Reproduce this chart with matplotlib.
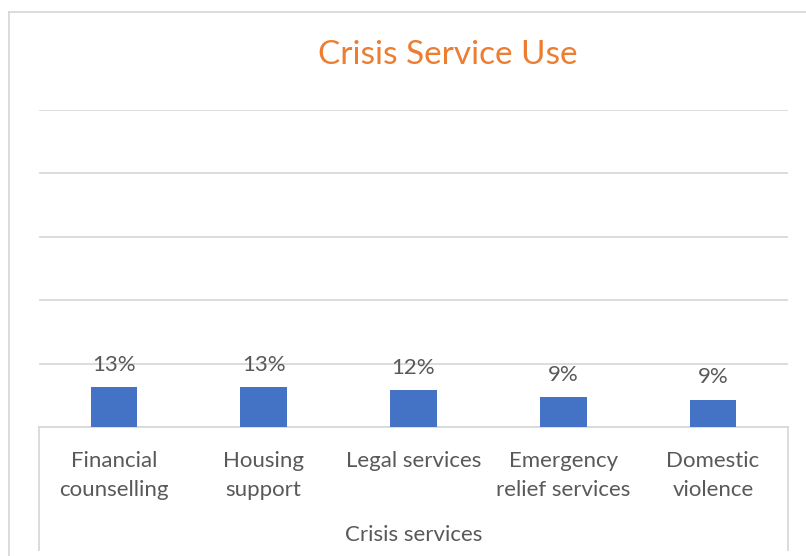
import matplotlib
matplotlib.use("Agg")
import matplotlib.pyplot as plt
from matplotlib.lines import Line2D

# Crisis service use (% of respondents)
categories = ["Financial\ncounselling", "Housing\nsupport", "Legal services",
              "Emergency\nrelief services", "Domestic\nviolence"]
values = [12.6, 12.6, 11.6, 9.4, 8.6]
y_ticks = [0, 20, 40, 60, 80, 100]

plt.rcParams["font.family"] = ["Lato", "DejaVu Sans"]

W, H = 806, 556
fig = plt.figure(figsize=(W / 100, H / 100), dpi=100)
fig.patch.set_facecolor("white")

grid_c = "#D9D9D9"
text_c = "#595959"


def fx(px):
    return px / W


def fy(py):
    return 1 - py / H


# plot area: x 39..788 px, y 110..427 px (from top)
ax = fig.add_axes([fx(39), fy(427), fx(788) - fx(39), fy(110) - fy(427)])
x = list(range(len(categories)))
bars = ax.bar(x, values, width=0.31, color="#4472C4", zorder=3)

ax.set_xlim(-0.5, len(categories) - 0.5)
ax.set_ylim(y_ticks[0], y_ticks[-1])
ax.set_yticks(y_ticks)
ax.yaxis.grid(True, color=grid_c, linewidth=1.3)
ax.set_axisbelow(True)
for s in ["top", "right", "left"]:
    ax.spines[s].set_visible(False)
ax.spines["bottom"].set_color(grid_c)
ax.spines["bottom"].set_linewidth(1.3)
ax.tick_params(axis="y", left=False, labelleft=False)
ax.set_xticks(x)
ax.set_xticklabels(categories, fontsize=16, color=text_c, linespacing=1.6)
ax.tick_params(axis="x", length=0, pad=17)

for b, v in zip(bars, values):
    ax.annotate(f"{int(v + 0.5)}%", (b.get_x() + b.get_width() / 2, v),
                xytext=(0, 9), textcoords="offset points",
                ha="center", va="bottom", fontsize=16, color=text_c)

ax.set_xlabel("Crisis services", fontsize=16, color=text_c, labelpad=18)

# category axis box sides and outer chart frame
for px in (39, 788):
    fig.add_artist(Line2D([fx(px), fx(px)], [fy(427), fy(550)],
                          color=grid_c, linewidth=1.3))
fig.add_artist(Line2D([fx(9), fx(9)], [fy(12), 0], color=grid_c, linewidth=1.3))
fig.add_artist(Line2D([fx(9), 1], [fy(12), fy(12)], color=grid_c, linewidth=1.3))

fig.text(fx(448), fy(55), "Crisis Service Use", fontsize=24, color="#ED7D31",
         ha="center", va="center")

fig.savefig("out.png", dpi=100)
